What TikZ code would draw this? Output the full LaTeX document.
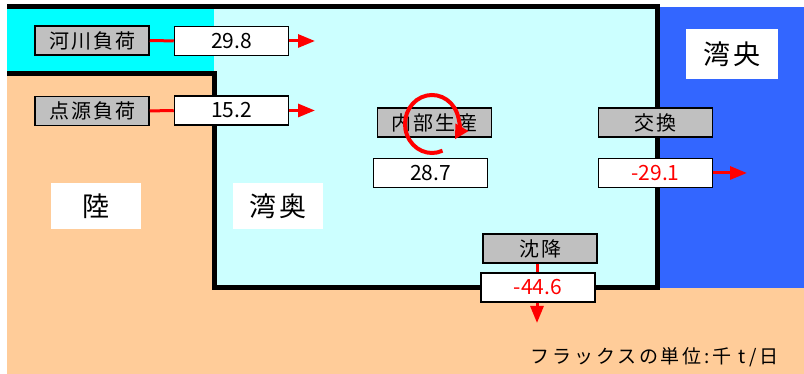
\documentclass[tikz,border=0pt]{standalone}
\usepackage{fontspec}
\setmainfont{Noto Sans CJK JP}
\newfontfamily\jpwide[LetterSpace=10]{Noto Sans CJK JP}
\newfontfamily\jpwider[LetterSpace=15]{Noto Sans CJK JP}
\usepackage{tikz}
\usetikzlibrary{arrows.meta,positioning,calc}
\definecolor{landfill}{HTML}{FFCC99}
\definecolor{riverfill}{HTML}{00FFFF}
\definecolor{innerfill}{HTML}{CCFFFF}
\definecolor{outerfill}{HTML}{3366FF}
\definecolor{tagfill}{HTML}{C0C0C0}
\definecolor{fluxred}{HTML}{FF0000}
\tikzset{
  tagbox/.style={draw=black,fill=tagfill,line width=1.5pt,minimum width=114pt,
                 minimum height=29pt,inner sep=0pt,font=\jpwide\fontsize{20}{20}\selectfont},
  valbox/.style={tagbox,fill=white,font=\fontsize{21}{21}\selectfont},
  areabox/.style={fill=white,minimum width=90pt,minimum height=46pt,inner sep=0pt,
                  font=\jpwide\fontsize{27}{27}\selectfont},
  fluxline/.style={fluxred,line width=3pt},
  fluxarrow/.style={fluxline,-{Triangle[length=17pt,width=13pt]}},
}
\begin{document}
\begin{tikzpicture}[x=1pt,y=1pt]
  \useasboundingbox(0,0)rectangle(804,374);
  \fill[landfill](7,0)rectangle(804,301);
  \fill[riverfill](7,301)rectangle(214,367);
  \fill[innerfill](214,86.5)rectangle(658,367);
  \fill[outerfill](658,86)rectangle(804,367);
  \draw[black,line width=5pt](7,367)--(657.5,367)--(657.5,86.5)
    --(214.5,86.5)--(214.5,300.5)--(7,300.5);
  \node[areabox](land)at(96,168){陸};
  \node[areabox](innerbay)at(278,168){湾奥};
  \node[areabox,minimum width=92pt,minimum height=50pt](outerbay)at(732,320){湾央};
  \node[tagbox](river)at(92,333.5){河川負荷};
  \node[valbox](riverval)at(231.5,333){29.8};
  \node[tagbox](point)at(92,263){点源負荷};
  \node[valbox](pointval)at(231.5,263.5){15.2};
  \node[tagbox](prod)at(434.5,251.5){内部生産};
  \node[valbox](prodval)at(430.5,201){28.7};
  \node[tagbox](exch)at(655.5,251.5){交換};
  \node[valbox,text=fluxred](exchval)at(655.5,201){-29.1};
  \node[tagbox](sink)at(540,125.5){沈降};
  \node[valbox,text=fluxred](sinkval)at(538,86.5){-44.6};
  \coordinate(riverout)at(315,333);
  \coordinate(pointout)at(315,263.5);
  \coordinate(exchout)at(747,201);
  \coordinate(sinkout)at(537,51);
  \draw[fluxline](river)--(riverval);
  \draw[fluxline](point)--(pointval);
  \draw[fluxline](sink.south-|sinkout)--(sinkval.north-|sinkout);
  \draw[fluxarrow](riverval)--(riverout);
  \draw[fluxarrow](pointval)--(pointout);
  \draw[fluxarrow](exchval)--(exchout);
  \draw[fluxarrow](sinkval.south-|sinkout)--(sinkout);
  \draw[fluxred,line width=4pt,-{Triangle[length=14pt,width=14pt]}]
    (432,250)++(-67:27 and 29)arc[start angle=-67,end angle=-392,
    x radius=27,y radius=29];
  \node[anchor=east,font=\jpwider\fontsize{19}{19}\selectfont](unit)at(782,17)
    {フラックスの単位:千 t/日};
\end{tikzpicture}
\end{document}
